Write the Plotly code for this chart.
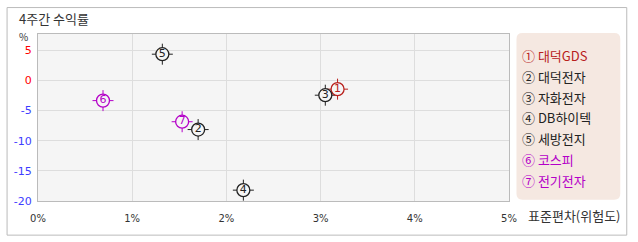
import plotly.graph_objects as go

# ---- data ----
names = ["대덕GDS", "대덕전자", "자화전자", "DB하이텍", "세방전지", "코스피", "전기전자"]
labels = ["1", "2", "3", "4", "5", "6", "7"]
circled = ["①", "②", "③", "④", "⑤", "⑥", "⑦"]
risk = [3.18, 1.70, 3.05, 2.18, 1.32, 0.69, 1.53]        # std dev %
ret = [-1.45, -8.15, -2.45, -18.2, 4.35, -3.35, -6.85]    # 4-week return %
colors = ["#b8201c", "#222222", "#222222", "#222222", "#222222", "#b400c8", "#b400c8"]

x_ticks = [0, 1, 2, 3, 4, 5]
x_ticktext = ["0%", "1%", "2%", "3%", "4%", "5%"]
y_ticks = [5, 0, -5, -10, -15, -20]

W, H = 638, 242
L, R, T, B = 37.5, 509.5, 34, 201.3


def px(xp):
    return (xp - L) / (R - L)


def py(yp):
    return (B - yp) / (B - T)


fig = go.Figure()

bg = "#f5f5f5"
# tick cross behind markers
fig.add_trace(go.Scatter(x=risk, y=ret, mode="markers",
                         marker=dict(symbol="cross-thin-open", size=15, color=colors,
                                     line=dict(color=colors, width=1)),
                         hoverinfo="skip", showlegend=False))
fig.add_trace(go.Scatter(x=risk, y=ret, mode="markers",
                         marker=dict(symbol="circle", size=13, color=bg,
                                     line=dict(color=colors, width=1.3)),
                         hoverinfo="skip", showlegend=False))
fig.add_trace(go.Scatter(x=risk, y=ret, mode="text", text=labels,
                         textposition="middle center",
                         textfont=dict(family="DejaVu Sans", size=11, color=colors),
                         hoverinfo="skip", showlegend=False))

y_ticktext = []
for v in y_ticks:
    c = "#ff0000" if v >= 0 else "#3d3dff"
    y_ticktext.append(f"<span style='color:{c}'>{v}</span>")

shapes = []
# outer border
shapes.append(dict(type="rect", xref="paper", yref="paper",
                   x0=px(6.5), x1=px(627.5), y0=py(235.5), y1=py(7.5),
                   line=dict(color="#bbbbbb", width=1), fillcolor="rgba(0,0,0,0)", layer="below"))
# legend box with rounded corners
lx0, lx1, ly0, ly1, r = 517, 621, 33, 200, 6


def P(a, b):
    return f"{px(a):.5f},{py(b):.5f}"


path = (f"M {P(lx0 + r, ly0)} L {P(lx1 - r, ly0)} Q {P(lx1, ly0)} {P(lx1, ly0 + r)} "
        f"L {P(lx1, ly1 - r)} Q {P(lx1, ly1)} {P(lx1 - r, ly1)} "
        f"L {P(lx0 + r, ly1)} Q {P(lx0, ly1)} {P(lx0, ly1 - r)} "
        f"L {P(lx0, ly0 + r)} Q {P(lx0, ly0)} {P(lx0 + r, ly0)} Z")
shapes.append(dict(type="path", xref="paper", yref="paper", path=path,
                   fillcolor="#f5e8e1", line=dict(width=0), layer="below"))

font = "Noto Sans CJK KR"
annotations = []
annotations.append(dict(text="4주간 수익률", xref="paper", yref="paper", x=px(16), y=py(18),
                        xanchor="left", yanchor="middle", showarrow=False,
                        font=dict(family=font, size=13, color="#333333")))
annotations.append(dict(text="%", xref="paper", yref="paper", x=px(29), y=py(37),
                        xanchor="right", yanchor="middle", showarrow=False,
                        font=dict(family=font, size=10, color="#333333")))
annotations.append(dict(text="표준편차(위험도)", xref="paper", yref="paper", x=px(527), y=py(216),
                        xanchor="left", yanchor="middle", showarrow=False,
                        font=dict(family=font, size=13, color="#333333")))
for i, (c, n, col) in enumerate(zip(circled, names, colors)):
    annotations.append(dict(text=f"{c} {n}", xref="paper", yref="paper",
                            x=px(521), y=py(55.7 + i * 20.8),
                            xanchor="left", yanchor="middle", showarrow=False,
                            font=dict(family=font, size=13, color=col)))

fig.update_layout(
    width=W, height=H,
    margin=dict(l=L, r=W - R, t=T, b=H - B, pad=0),
    paper_bgcolor="white", plot_bgcolor=bg,
    xaxis=dict(range=[0, 5], tickvals=x_ticks, ticktext=x_ticktext,
               showgrid=True, gridcolor="#dddddd", gridwidth=1, zeroline=False,
               showline=True, linecolor="#bbbbbb", linewidth=1, mirror=True,
               ticks="", ticklen=0, ticklabelstandoff=8,
               tickfont=dict(family="DejaVu Sans", size=10, color="#333333")),
    yaxis=dict(range=[-20, 7.7], tickvals=y_ticks, ticktext=y_ticktext,
               showgrid=True, gridcolor="#dddddd", gridwidth=1, zeroline=False,
               showline=True, linecolor="#bbbbbb", linewidth=1, mirror=True,
               ticks="", ticklen=0, ticklabelstandoff=3,
               tickfont=dict(family="DejaVu Sans", size=11)),
    shapes=shapes, annotations=annotations,
    font=dict(family=font),
)

fig.write_html("out.html")
